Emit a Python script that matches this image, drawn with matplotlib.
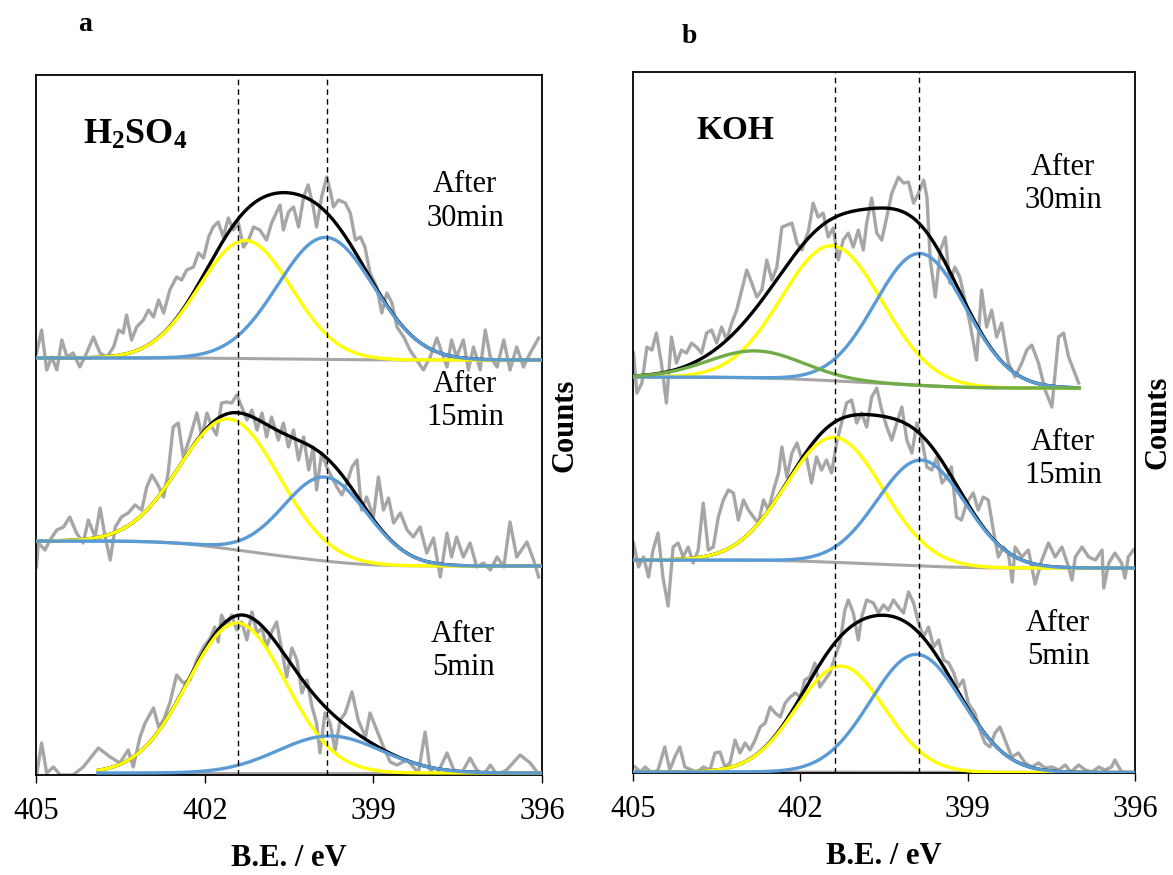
import numpy as np
import matplotlib
matplotlib.use("Agg")
import matplotlib.pyplot as plt

plt.rcParams['font.family'] = 'Liberation Serif'
plt.rcParams['mathtext.fontset'] = 'custom'
plt.rcParams['mathtext.rm'] = 'Liberation Serif'
plt.rcParams['mathtext.bf'] = 'Liberation Serif:bold'

# ---- raw spectra: (binding energy eV, counts above the stack offset) ----
a5_raw = [(404.99, 0), (404.90, 32), (404.81, 2), (404.69, 8), (404.57, 0), (404.34, 0), (404.16, 8),
          (403.89, 27), (403.68, 18), (403.51, 12), (403.36, 25), (403.27, 8), (403.15, 38), (403.06, 52),
          (402.91, 67), (402.82, 48), (402.73, 55), (402.62, 72), (402.50, 100), (402.38, 92), (402.26, 95),
          (402.14, 115), (402.02, 128), (401.90, 137), (401.82, 148), (401.76, 133), (401.70, 160),
          (401.61, 148), (401.52, 160), (401.43, 145), (401.34, 153), (401.25, 135), (401.16, 163),
          (401.07, 142), (400.98, 147), (400.90, 128), (400.81, 143), (400.72, 153), (400.63, 125),
          (400.54, 98), (400.45, 127), (400.36, 115), (400.27, 82), (400.18, 95), (400.09, 68), (400.01, 52),
          (399.95, 22), (399.86, 62), (399.77, 52), (399.68, 25), (399.59, 55), (399.50, 62), (399.38, 83),
          (399.27, 55), (399.14, 38), (399.06, 62), (398.94, 45), (398.82, 28), (398.70, 13), (398.58, 10),
          (398.40, 15), (398.29, 8), (398.20, 2), (398.08, 43), (397.99, 5), (397.87, 0), (397.69, 22),
          (397.57, 5), (397.43, 2), (397.28, 17), (397.16, 5), (397.04, 0), (396.92, 10), (396.80, 0),
          (396.63, 5), (396.39, 20), (396.21, 12), (396.09, 3)]

a15_raw = [(404.99, -1), (404.96, 23), (404.84, 16), (404.75, 26), (404.63, 36), (404.51, 39), (404.40, 49),
           (404.28, 33), (404.16, 23), (404.07, 46), (403.95, 29), (403.86, 58), (403.77, 29), (403.68, 6),
           (403.59, 39), (403.48, 49), (403.36, 53), (403.24, 61), (403.12, 56), (403.03, 79), (402.94, 91),
           (402.85, 83), (402.73, 69), (402.65, 93), (402.56, 139), (402.47, 143), (402.38, 109),
           (402.26, 129), (402.14, 153), (402.05, 129), (401.96, 153), (401.87, 139), (401.79, 131),
           (401.70, 163), (401.61, 164), (401.52, 163), (401.43, 171), (401.34, 159), (401.25, 146),
           (401.16, 156), (401.07, 136), (400.98, 153), (400.90, 129), (400.81, 149), (400.69, 126),
           (400.60, 143), (400.51, 119), (400.42, 136), (400.33, 106), (400.24, 129), (400.15, 96),
           (400.07, 119), (400.01, 76), (399.92, 113), (399.83, 99), (399.74, 89), (399.65, 79), (399.56, 71),
           (399.47, 83), (399.38, 99), (399.29, 106), (399.21, 56), (399.12, 69), (399.00, 49), (398.91, 89),
           (398.82, 56), (398.73, 68), (398.64, 43), (398.52, 53), (398.40, 36), (398.29, 29), (398.17, 39),
           (398.05, 13), (397.93, 28), (397.81, -11), (397.69, 33), (397.61, 9), (397.52, 29), (397.40, 9),
           (397.28, 23), (397.16, -1), (397.04, 3), (396.92, -4), (396.80, 9), (396.68, -1), (396.57, 44),
           (396.45, 9), (396.27, 24), (396.15, 6), (396.06, -11)]

a30_raw = [(404.99, 7), (404.90, 30), (404.81, -10), (404.72, 3), (404.63, -10), (404.54, 20), (404.45, 3),
           (404.34, 7), (404.22, -7), (404.10, 7), (403.98, 23), (403.86, 7), (403.74, 3), (403.62, 13),
           (403.53, 30), (403.45, 27), (403.39, 45), (403.30, 20), (403.21, 33), (403.09, 40), (403.00, 50),
           (402.91, 43), (402.82, 60), (402.73, 47), (402.62, 70), (402.50, 83), (402.41, 80), (402.32, 90),
           (402.20, 93), (402.11, 107), (402.02, 102), (401.93, 123), (401.85, 133), (401.76, 138),
           (401.67, 123), (401.58, 142), (401.49, 130), (401.40, 137), (401.31, 113), (401.22, 120),
           (401.13, 133), (401.02, 130), (400.90, 120), (400.81, 137), (400.72, 148), (400.66, 155),
           (400.60, 130), (400.51, 148), (400.42, 153), (400.33, 133), (400.24, 163), (400.16, 175),
           (400.07, 153), (400.01, 133), (399.92, 163), (399.83, 183), (399.77, 170), (399.71, 153),
           (399.62, 160), (399.50, 157), (399.41, 147), (399.32, 120), (399.23, 123), (399.15, 113),
           (399.06, 87), (398.94, 73), (398.85, 47), (398.76, 67), (398.67, 57), (398.58, 33), (398.46, 23),
           (398.35, 10), (398.23, 0), (398.11, -10), (397.99, 3), (397.87, 22), (397.78, 7), (397.69, -7),
           (397.61, 20), (397.52, 3), (397.40, 20), (397.31, -10), (397.22, 13), (397.10, -10), (397.01, 30),
           (396.92, 3), (396.80, -7), (396.68, 20), (396.57, -10), (396.45, 13), (396.33, -7), (396.21, 7),
           (396.06, 22)]

b5_raw = [(404.96, 6), (404.87, 1), (404.78, 6), (404.66, 0), (404.55, 3), (404.43, 26), (404.34, 3),
          (404.25, 16), (404.16, 26), (404.07, 6), (403.95, 3), (403.86, 0), (403.74, 6), (403.62, 3),
          (403.53, 20), (403.44, 21), (403.35, 6), (403.26, 10), (403.17, 33), (403.08, 20), (402.99, 30),
          (402.90, 23), (402.81, 33), (402.72, 46), (402.63, 50), (402.54, 66), (402.45, 60), (402.36, 56),
          (402.27, 70), (402.18, 76), (402.09, 80), (402.00, 76), (401.92, 93), (401.83, 96), (401.74, 110),
          (401.65, 86), (401.56, 93), (401.47, 100), (401.38, 116), (401.29, 130), (401.20, 163),
          (401.14, 173), (401.05, 160), (400.96, 133), (400.90, 156), (400.81, 173), (400.69, 170),
          (400.60, 160), (400.51, 168), (400.42, 163), (400.33, 173), (400.24, 166), (400.15, 160),
          (400.06, 181), (399.97, 170), (399.88, 150), (399.79, 136), (399.70, 146), (399.61, 126),
          (399.52, 133), (399.43, 113), (399.34, 110), (399.25, 100), (399.17, 86), (399.08, 93),
          (398.99, 70), (398.87, 60), (398.78, 43), (398.69, 30), (398.60, 26), (398.51, 40), (398.42, 46),
          (398.33, 33), (398.21, 16), (398.09, 20), (397.97, 10), (397.85, 6), (397.73, 10), (397.61, 5),
          (397.49, 6), (397.37, 3), (397.25, 8), (397.15, 1), (397.01, 8), (396.89, 3), (396.77, 1),
          (396.65, 6), (396.54, 3), (396.42, 6), (396.36, 13), (396.24, 1), (396.06, 0)]

b15_raw = [(404.99, 25), (404.90, 1), (404.81, 11), (404.72, -9), (404.64, 18), (404.55, 35), (404.46, -10),
           (404.37, -38), (404.28, 21), (404.19, 25), (404.10, 11), (404.01, 21), (403.92, 5), (403.83, 18),
           (403.74, 65), (403.65, 18), (403.56, 21), (403.47, 51), (403.38, 68), (403.29, 78), (403.20, 75),
           (403.11, 48), (403.02, 68), (402.93, 58), (402.84, 51), (402.75, 45), (402.66, 68), (402.57, 58),
           (402.48, 78), (402.39, 95), (402.33, 121), (402.24, 91), (402.15, 115), (402.06, 125),
           (401.97, 108), (401.89, 111), (401.80, 85), (401.71, 111), (401.62, 98), (401.53, 108),
           (401.44, 95), (401.35, 125), (401.26, 145), (401.17, 165), (401.08, 168), (400.99, 145),
           (400.90, 155), (400.81, 141), (400.72, 171), (400.63, 180), (400.54, 158), (400.45, 141),
           (400.36, 128), (400.27, 145), (400.18, 161), (400.09, 128), (400.00, 115), (399.91, 145),
           (399.82, 128), (399.73, 101), (399.64, 98), (399.55, 111), (399.46, 85), (399.37, 91),
           (399.29, 101), (399.20, 51), (399.11, 48), (399.02, 65), (398.90, 75), (398.81, 58), (398.72, 71),
           (398.63, 68), (398.54, 38), (398.45, 11), (398.36, 21), (398.27, 15), (398.20, -14), (398.15, 21),
           (398.03, 11), (397.91, 18), (397.79, -16), (397.67, 8), (397.55, 25), (397.43, 11), (397.31, 21),
           (397.19, 1), (397.13, -12), (397.07, 11), (396.95, 21), (396.83, 11), (396.71, 8), (396.59, 18),
           (396.56, -20), (396.47, 5), (396.36, 15), (396.24, 5), (396.18, -10), (396.12, 11), (396.03, 18)]

b30_raw = [(404.99, 35), (404.93, -5), (404.84, 5), (404.75, 41), (404.66, 38), (404.58, 55), (404.49, 25),
           (404.40, -15), (404.31, 51), (404.22, 25), (404.13, 38), (404.04, 35), (403.95, 45), (403.86, 41),
           (403.77, 35), (403.68, 55), (403.59, 58), (403.50, 45), (403.41, 61), (403.32, 48), (403.23, 65),
           (403.14, 78), (403.05, 98), (402.96, 118), (402.87, 105), (402.78, 91), (402.69, 98),
           (402.60, 128), (402.51, 108), (402.42, 121), (402.33, 161), (402.24, 163), (402.15, 165),
           (402.06, 145), (401.97, 138), (401.85, 158), (401.77, 185), (401.68, 171), (401.59, 175),
           (401.50, 151), (401.41, 160), (401.32, 128), (401.23, 148), (401.14, 155), (401.05, 141),
           (400.96, 158), (400.87, 138), (400.81, 165), (400.72, 190), (400.63, 155), (400.54, 148),
           (400.45, 171), (400.36, 195), (400.24, 211), (400.15, 205), (400.06, 206), (399.97, 185),
           (399.88, 195), (399.79, 208), (399.73, 191), (399.67, 128), (399.58, 91), (399.49, 138),
           (399.40, 151), (399.32, 105), (399.23, 121), (399.14, 111), (399.05, 88), (398.96, 65),
           (398.84, 28), (398.75, 98), (398.66, 61), (398.57, 78), (398.48, 51), (398.39, 65), (398.27, 25),
           (398.15, 11), (398.03, 25), (397.94, 38), (397.85, 43), (397.73, 25), (397.61, -2), (397.49, -19),
           (397.37, 51), (397.28, 55), (397.19, 31), (397.10, 18), (397.01, 5)]

# stack offsets (counts)
a_offsets = [0, 209, 415]
b_offsets = [0, 205, 385]

# fitted components: (centre eV, sigma eV, height)
a5_yellow, a5_blue = (401.43, 0.87, 150), (399.78, 0.92, 37)
a15_yellow, a15_blue = (401.55, 0.88, 130), (399.85, 0.74, 84)
a30_yellow, a30_blue = (401.28, 0.82, 118), (399.85, 0.85, 122)
b5_yellow, b5_blue = (401.28, 0.79, 106), (399.92, 0.82, 118)
b15_yellow, b15_blue = (401.39, 0.87, 125), (399.83, 0.79, 106)
b30_green, b30_yellow, b30_blue = (402.80, 0.85, 27), (401.43, 0.90, 135), (399.85, 0.81, 132)

# Shirley background end levels (high-BE side, low-BE side) and fit ranges
a_bg = [(2, 2), (25, 0), (2, 0)]
b_bg = [(1, 0.5), (8, 0), (11, 0)]
a_ranges = [(403.9, 396.0), (405.0, 396.0), (405.0, 396.0)]
b_ranges = [(405.0, 396.0), (405.0, 396.0), (405.0, 397.0)]

time_labels = ['After\n5min', 'After\n15min', 'After\n30min']
a_ref_lines = [401.40, 399.83]
b_ref_lines = [401.37, 399.88]
x_ticks = [405, 402, 399, 396]

GRAY = '#a6a6a6'
YELLOW = '#ffff00'
BLUE = '#5b9bd5'
GREEN = '#70ad47'


def gauss(x, centre, sigma, height):
    return height * np.exp(-(x - centre) ** 2 / (2 * sigma ** 2))


def draw_spectrum(ax, raw, offset, comps, bg_levels, fit_range):
    be = [p[0] for p in raw]
    cts = [p[1] + offset for p in raw]
    ax.plot(be, cts, color=GRAY, lw=2.4, zorder=1)

    x = np.linspace(fit_range[0], fit_range[1], 500)
    peaks = [(gauss(x, *p), c) for p, c in comps]
    total = sum(p for p, _ in peaks)
    # Shirley-type background following the cumulative peak area
    cum = np.cumsum(total[::-1])[::-1]
    hi, lo = bg_levels
    bg = lo + (hi - lo) * cum / cum[0] + offset
    ax.plot(x, bg, color=GRAY, lw=2.2, zorder=2)
    ax.plot(x, bg + total, color='black', lw=2.4, zorder=3)
    for i, (p, c) in enumerate(peaks):
        ax.plot(x, bg + p, color=c, lw=2.4, zorder=4 + i)


def style_axes(ax, ymax, ref_lines):
    ax.set_xlim(405, 396)
    ax.set_ylim(0, ymax)
    ax.set_xticks(x_ticks)
    ax.set_xticklabels([str(t) for t in x_ticks])
    ax.set_yticks([])
    ax.tick_params(axis='x', direction='out', length=6, width=1, labelsize=22, pad=10)
    for s in ax.spines.values():
        s.set_linewidth(1.3)
    for v in ref_lines:
        ax.axvline(v, color='black', lw=1, ls=(0, (4, 3)), zorder=10)
    ax.set_xlabel('B.E. / eV', fontsize=22, fontweight='bold', labelpad=13)
    ax.yaxis.set_label_position('right')
    ax.set_ylabel('Counts', fontsize=22, fontweight='bold', labelpad=6)


fig = plt.figure(figsize=(11.73, 8.75), dpi=100)
ax_a = fig.add_axes([0.0307, 0.1143, 0.4314, 0.800])
ax_b = fig.add_axes([0.5396, 0.1166, 0.4280, 0.801])

a_raws = [a5_raw, a15_raw, a30_raw]
a_comps = [[(a5_yellow, YELLOW), (a5_blue, BLUE)],
           [(a15_yellow, YELLOW), (a15_blue, BLUE)],
           [(a30_yellow, YELLOW), (a30_blue, BLUE)]]
for raw, off, comps, bgl, rng in zip(a_raws, a_offsets, a_comps, a_bg, a_ranges):
    draw_spectrum(ax_a, raw, off, comps, bgl, rng)

b_raws = [b5_raw, b15_raw, b30_raw]
b_comps = [[(b5_yellow, YELLOW), (b5_blue, BLUE)],
           [(b15_yellow, YELLOW), (b15_blue, BLUE)],
           [(b30_yellow, YELLOW), (b30_blue, BLUE), (b30_green, GREEN)]]
for raw, off, comps, bgl, rng in zip(b_raws, b_offsets, b_comps, b_bg, b_ranges):
    draw_spectrum(ax_b, raw, off, comps, bgl, rng)

style_axes(ax_a, 700, a_ref_lines)
style_axes(ax_b, 701, b_ref_lines)

# annotations
a_text_pos = [(0.844, 0.177), (0.848, 0.534), (0.848, 0.819)]
b_text_pos = [(0.847, 0.190), (0.857, 0.448), (0.857, 0.840)]
for (tx, ty), lab in zip(a_text_pos, time_labels):
    ax_a.text(tx, ty, lab, transform=ax_a.transAxes, ha='center', va='center',
              fontsize=22, linespacing=1.2)
for (tx, ty), lab in zip(b_text_pos, time_labels):
    ax_b.text(tx, ty, lab, transform=ax_b.transAxes, ha='center', va='center',
              fontsize=22, linespacing=1.2)

ax_a.text(0.196, 0.914, r'$\mathbf{H_2SO_4}$', transform=ax_a.transAxes,
          ha='center', va='center', fontsize=26)
ax_b.text(0.203, 0.917, 'KOH', transform=ax_b.transAxes, ha='center', va='center',
          fontsize=24, fontweight='bold')

fig.text(0.0725, 0.972, 'a', fontsize=20, fontweight='bold', ha='center', va='center')
fig.text(0.588, 0.958, 'b', fontsize=20, fontweight='bold', ha='center', va='center')

fig.savefig('out.png', dpi=100)
